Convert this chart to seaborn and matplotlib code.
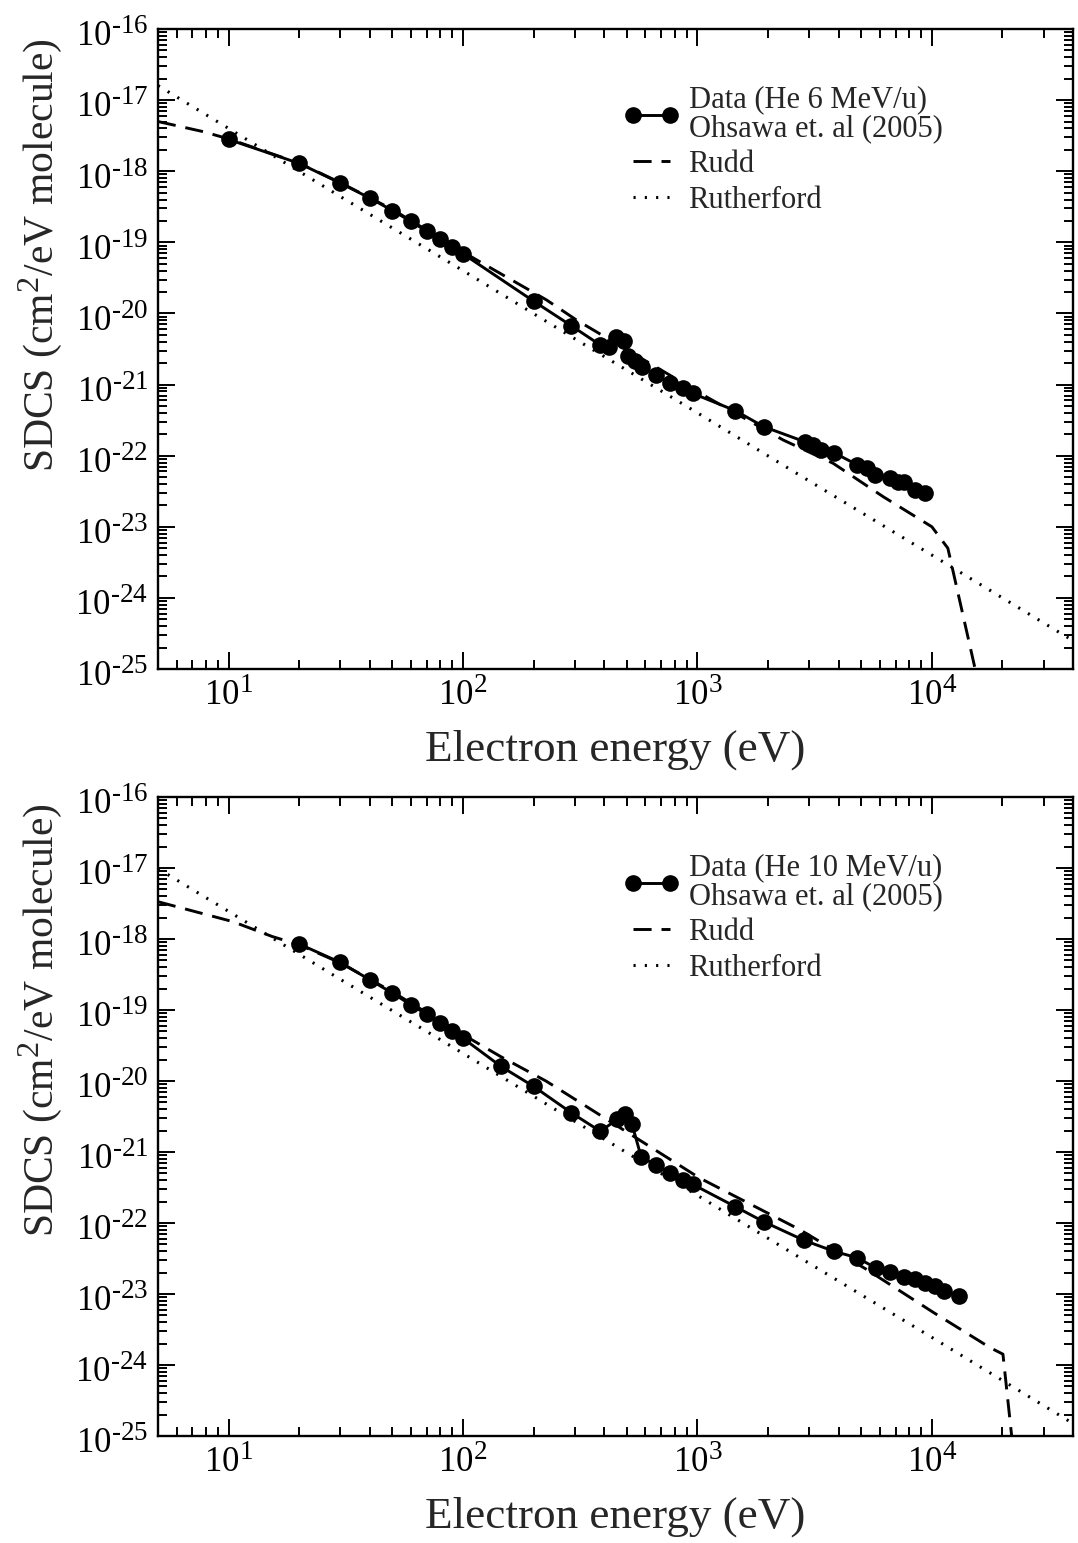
import numpy as np
import pandas as pd
import matplotlib
matplotlib.use("Agg")
import matplotlib.pyplot as plt
import matplotlib._mathtext as _mt
import seaborn as sns
from matplotlib.ticker import FixedLocator, FuncFormatter, NullFormatter
from matplotlib.transforms import ScaledTranslation

# ---------------- data ----------------
# Top panel: He 6 MeV/u
data6_E = [10, 20, 30, 40, 50, 60, 70, 80, 90, 100, 200, 290, 385, 420, 450, 485,
           505, 540, 580, 665, 765, 865, 955, 1450, 1920, 2870, 3120, 3350, 3820,
           4780, 5270, 5710, 6620, 7190, 7600, 8470, 9350]
data6_S = [2.8e-18, 1.29e-18, 6.8e-19, 4.2e-19, 2.8e-19, 1.97e-19, 1.43e-19, 1.1e-19,
           8.7e-20, 6.9e-20, 1.49e-20, 6.7e-21, 3.6e-21, 3.4e-21, 4.6e-21, 4.1e-21,
           2.5e-21, 2.15e-21, 1.78e-21, 1.36e-21, 1.06e-21, 9.0e-22, 7.5e-22, 4.3e-22,
           2.55e-22, 1.57e-22, 1.41e-22, 1.2e-22, 1.1e-22, 7.5e-23, 6.6e-23, 5.3e-23,
           4.8e-23, 4.3e-23, 4.2e-23, 3.3e-23, 3.0e-23]
rudd6_E = [5, 7.8, 10, 20, 30, 50, 100, 144, 227, 305, 626, 1094, 2322, 3795, 6210,
           10000, 11700, 15300, 17000]
rudd6_S = [5.0e-18, 3.6e-18, 2.85e-18, 1.3e-18, 6.9e-19, 2.9e-19, 7.3e-20, 3.66e-20,
           1.55e-20, 8.07e-21, 1.99e-21, 6.7e-22, 1.66e-22, 7.8e-23, 2.64e-23,
           1.0e-23, 5.0e-24, 1.0e-25, 2.0e-26]
ruth6_E = [5, 10, 30, 100, 300, 1000, 3000, 10000, 40000]
ruth6_S = [1.6e-17, 4.0e-18, 4.4e-19, 4.0e-20, 4.4e-21, 4.0e-22, 4.4e-23, 4.0e-24, 2.5e-25]

# Bottom panel: He 10 MeV/u
data10_E = [20, 30, 40, 50, 60, 70, 80, 90, 100, 145, 200, 290, 385, 455, 490, 525,
            575, 665, 765, 865, 955, 1450, 1920, 2850, 3820, 4780, 5750, 6620, 7600,
            8470, 9350, 10300, 11300, 13100]
data10_S = [8.5e-19, 4.67e-19, 2.67e-19, 1.73e-19, 1.18e-19, 8.7e-20, 6.6e-20, 5.1e-20,
            4.0e-20, 1.61e-20, 8.4e-21, 3.56e-21, 1.96e-21, 2.87e-21, 3.48e-21, 2.52e-21,
            8.6e-22, 6.5e-22, 5.0e-22, 4.0e-22, 3.5e-22, 1.7e-22, 1.04e-22, 5.7e-23,
            4.0e-23, 3.25e-23, 2.35e-23, 2.07e-23, 1.76e-23, 1.61e-23, 1.45e-23, 1.3e-23,
            1.1e-23, 9.4e-24]
rudd10_E = [5, 10.4, 15.4, 20, 30, 50, 100, 144, 227, 423, 1018, 2735, 5265, 10150,
            17700, 20100, 21900, 24000]
rudd10_S = [3.35e-18, 1.76e-18, 1.08e-18, 8.3e-19, 4.6e-19, 1.8e-19, 4.5e-20, 2.23e-20,
            9.9e-21, 2.71e-21, 4.33e-22, 8.05e-23, 2.22e-23, 5.5e-24, 1.76e-24, 1.42e-24,
            1.0e-25, 2.0e-26]
ruth10_E = [5, 10, 30, 100, 300, 1000, 3000, 10000, 40000]
ruth10_S = [9.8e-18, 2.45e-18, 2.7e-19, 2.45e-20, 2.7e-21, 2.45e-22, 2.7e-23, 2.45e-24, 1.5e-25]

# tick decades
x_decades = [1, 2, 3, 4]
y_decades = [-25, -24, -23, -22, -21, -20, -19, -18, -17, -16]

panels = [
    ("Data (He 6 MeV/u)\nOhsawa et. al (2005)", data6_E, data6_S, rudd6_E, rudd6_S, ruth6_E, ruth6_S),
    ("Data (He 10 MeV/u)\nOhsawa et. al (2005)", data10_E, data10_S, rudd10_E, rudd10_S, ruth10_E, ruth10_S),
]

# ---------------- style ----------------
sns.set_theme(style="ticks")
plt.rcParams.update({
    "font.family": ["Liberation Serif", "DejaVu Serif"],
    "mathtext.fontset": "custom",
    "mathtext.rm": "Liberation Serif",
    "mathtext.it": "Liberation Serif:italic",
    "mathtext.bf": "Liberation Serif:bold",
    "axes.linewidth": 1.7,
    "xtick.direction": "in",
    "ytick.direction": "in",
    "xtick.top": True,
    "ytick.right": True,
    "xtick.major.size": 12.5,
    "ytick.major.size": 12.5,
    "xtick.minor.size": 6.5,
    "ytick.minor.size": 6.5,
    "xtick.major.width": 1.4,
    "ytick.major.width": 1.4,
    "xtick.minor.width": 1.4,
    "ytick.minor.width": 1.4,
    "xtick.color": "black",
    "ytick.color": "black",
    "axes.edgecolor": "black",
})
# larger superscripts, as in the reference
_mt.SHRINK_FACTOR = 0.78


def dec_label(v, pos=None):
    e = int(round(np.log10(v)))
    s = str(e).replace("-", r"\text{-}")
    return r"$\mathregular{10^{%s}}$" % s


fig = plt.figure(figsize=(10.78, 15.43), dpi=100)
axes_rects = [
    [158 / 1078, 1 - 669 / 1543, 915 / 1078, 640 / 1543],
    [158 / 1078, 1 - 1436 / 1543, 915 / 1078, 639 / 1543],
]
ylabel_pos = [0.647, 0.651]

xmaj = [10.0 ** d for d in x_decades]
ymaj = [10.0 ** d for d in y_decades]
xmin = [m * 10.0 ** d for d in range(0, 5) for m in range(2, 10) if 5 <= m * 10.0 ** d <= 4e4]
ymin = [m * 10.0 ** d for d in range(-25, -16) for m in range(2, 10)]

for rect, ylp, (lab, dE, dS, rE, rS, tE, tS) in zip(axes_rects, ylabel_pos, panels):
    ax = fig.add_axes(rect)
    sns.lineplot(x=dE, y=dS, ax=ax, color="black", lw=2.1, marker="o",
                 markersize=12, markeredgewidth=0, sort=False, estimator=None,
                 label=lab)
    sns.lineplot(x=rE, y=rS, ax=ax, color="black", lw=2.1, sort=False,
                 estimator=None, label="Rudd", linestyle=(0, (6.2, 3.4)))
    sns.lineplot(x=tE, y=tS, ax=ax, color="black", lw=2.2, sort=False,
                 estimator=None, label="Rutherford", linestyle=(0, (0.7, 3.0)))
    ax.set_xscale("log")
    ax.set_yscale("log")
    ax.set_xlim(5, 4e4)
    ax.set_ylim(1e-25, 1e-16)
    ax.xaxis.set_major_locator(FixedLocator(xmaj))
    ax.yaxis.set_major_locator(FixedLocator(ymaj))
    ax.xaxis.set_minor_locator(FixedLocator(xmin))
    ax.yaxis.set_minor_locator(FixedLocator(ymin))
    ax.xaxis.set_major_formatter(FuncFormatter(dec_label))
    ax.yaxis.set_major_formatter(FuncFormatter(dec_label))
    ax.xaxis.set_minor_formatter(NullFormatter())
    ax.yaxis.set_minor_formatter(NullFormatter())
    ax.tick_params(which="both", labelsize=25, pad=7)
    ax.set_xlabel("Electron energy (eV)", fontsize=32.5, labelpad=12)
    ax.set_ylabel(r"SDCS (cm$^{2}$/eV molecule)", fontsize=30, labelpad=4)
    ax.yaxis.set_label_coords(-0.103, ylp)
    for sp in ax.spines.values():
        sp.set_visible(True)
    # shift y tick labels slightly down (digits centred a bit below the tick)
    off = ScaledTranslation(0, -4 / 100, fig.dpi_scale_trans)
    for tk in ax.yaxis.get_major_ticks():
        tk.label1.set_transform(tk.label1.get_transform() + off)
    leg = ax.legend(loc="upper left", bbox_to_anchor=(0.509, 0.912), frameon=False,
                    fontsize=22, numpoints=2, handlelength=1.8, handletextpad=0.32,
                    borderpad=0, borderaxespad=0, labelspacing=0.22)
    for t in leg.get_texts():
        t.set_linespacing(1.0)

fig.savefig("out.png", dpi=100)
